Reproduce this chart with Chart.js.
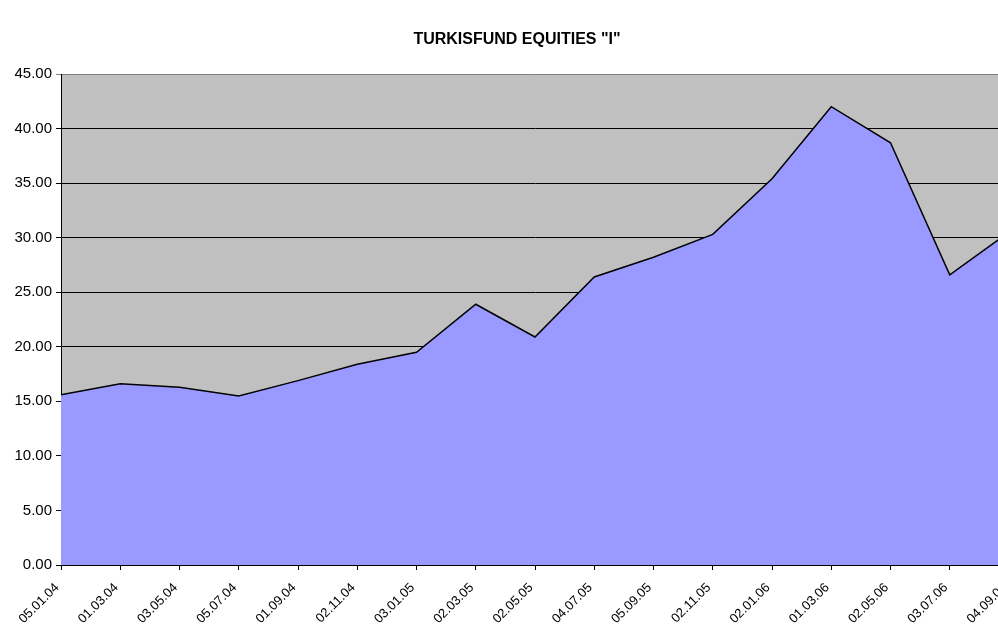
<!DOCTYPE html>
<html>
<head>
<meta charset="utf-8">
<script src="https://cdn.jsdelivr.net/npm/chart.js@4.4.0/dist/chart.umd.min.js"></script>
<style>
    html, body { margin: 0; padding: 0; background: #fff; overflow: hidden; }
    #wrap { width: 1034px; height: 625px; }
</style>
</head>
<body>
<div id="wrap"><canvas id="myChart" width="1034" height="625"></canvas></div>
<script>
    const ctx = document.getElementById('myChart');

    const chartTitle = 'TURKISFUND EQUITIES "I"';
    const dates = ['05.01.04', '01.03.04', '03.05.04', '05.07.04', '01.09.04', '02.11.04',
        '03.01.05', '02.03.05', '02.05.05', '04.07.05', '05.09.05', '02.11.05',
        '02.01.06', '01.03.06', '02.05.06', '03.07.06', '04.09.06'];
    const prices = [15.6, 16.6, 16.3, 15.5, 16.9, 18.4, 19.5, 23.9, 20.9, 26.4,
        28.2, 30.3, 35.4, 42.0, 38.7, 26.6, 30.5];
    const yMin = 0;
    const yMax = 45;
    const yStep = 5;

    // gray plot area + title drawn at fixed spot
    const plotBg = {
        id: 'plotBg',
        beforeDraw: function (chart) {
            var a = chart.chartArea;
            var c = chart.ctx;
            c.save();
            c.fillStyle = '#C0C0C0';
            c.fillRect(a.left, a.top, a.right - a.left, a.bottom - a.top);
            c.restore();
        },
        afterDraw: function (chart) {
            var c = chart.ctx;
            c.save();
            c.font = 'bold 16px Arial, "Liberation Sans", sans-serif';
            c.fillStyle = '#000';
            c.textAlign = 'center';
            c.textBaseline = 'middle';
            c.fillText(chartTitle, 517, 40);
            c.restore();
        }
    };

    var chart = new Chart(ctx, {
        type: 'line',
        data: {
            labels: dates,
            datasets: [{
                    label: chartTitle,
                    data: prices,
                    fill: 'origin',
                    backgroundColor: '#9999FF',
                    borderColor: '#000000',
                    borderWidth: 1.5,
                    pointRadius: 0,
                    tension: 0
                }]
        },
        options: {
            responsive: false,
            animation: false,
            devicePixelRatio: 1,
            layout: {
                padding: { top: 74, right: 25, left: 0, bottom: 0 }
            },
            plugins: {
                legend: { display: false },
                title: { display: false },
                tooltip: { enabled: false }
            },
            scales: {
                x: {
                    offset: false,
                    afterFit: function (s) { s.height = 60; },
                    grid: {
                        drawOnChartArea: false,
                        drawTicks: true,
                        tickLength: 5,
                        color: '#000'
                    },
                    border: { color: '#000', width: 1 },
                    ticks: {
                        autoSkip: false,
                        maxRotation: 45,
                        minRotation: 45,
                        padding: 10,
                        labelOffset: -4,
                        color: '#000',
                        font: { family: 'Arial, "Liberation Sans", sans-serif', size: 13 }
                    }
                },
                y: {
                    min: yMin,
                    max: yMax,
                    afterFit: function (s) { s.width = 61; },
                    grid: {
                        color: function (c) {
                            return c.tick && c.tick.value === yMax ? '#808080' : '#000';
                        },
                        lineWidth: 1,
                        drawTicks: true,
                        tickLength: 5
                    },
                    border: { color: '#000', width: 1 },
                    ticks: {
                        stepSize: yStep,
                        padding: 4,
                        color: '#000',
                        font: { family: 'Arial, "Liberation Sans", sans-serif', size: 15 },
                        callback: function (v) { return v.toFixed(2); }
                    }
                }
            }
        },
        plugins: [plotBg]
    });
</script>
</body>
</html>
